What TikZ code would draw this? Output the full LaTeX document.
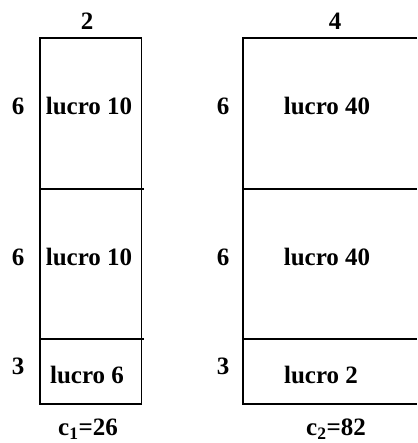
\documentclass[tikz,border=0pt]{standalone}
\usepackage{fontspec}
\setmainfont{Liberation Serif}
\begin{document}
\begin{tikzpicture}[x=1pt,y=-1pt,
  lbl/.style={font=\fontsize{25}{29}\selectfont\bfseries, inner sep=0pt, anchor=center},
  edge/.style={line width=1.6pt, line cap=butt}]
\useasboundingbox (0,0) rectangle (417,443);
% left column
\draw[edge] (141.5,38) -- (40,38) -- (40,404) -- (141.5,404) -- cycle;
\draw[edge] (40,189) -- (144,189);
\draw[edge] (40,339) -- (144,339);
% right column (right side cut off)
\draw[edge] (417,38) -- (243,38) -- (243,404) -- (417,404);
\draw[edge] (243,189) -- (417,189);
\draw[edge] (243,339) -- (417,339);
% labels
\node[lbl] (w1) at (87,21) {2};
\node[lbl] (w2) at (335,21) {4};
\node[lbl] (h1a) at (18,106) {6};
\node[lbl] (h1b) at (18,257) {6};
\node[lbl] (h1c) at (18,366) {3};
\node[lbl] (h2a) at (223,106) {6};
\node[lbl] (h2b) at (223,257) {6};
\node[lbl] (h2c) at (223,366) {3};
\node[lbl] (p1a) at (89,106) {lucro 10};
\node[lbl] (p1b) at (89,257) {lucro 10};
\node[lbl] (p1c) at (87,375) {lucro 6};
\node[lbl] (p2a) at (327,106) {lucro 40};
\node[lbl] (p2b) at (327,257) {lucro 40};
\node[lbl] (p2c) at (321,375) {lucro 2};
\node[lbl] (c1) at (88,429) {c\textsubscript{1}=26};
\node[lbl] (c2) at (336,429) {c\textsubscript{2}=82};
\end{tikzpicture}
\end{document}
